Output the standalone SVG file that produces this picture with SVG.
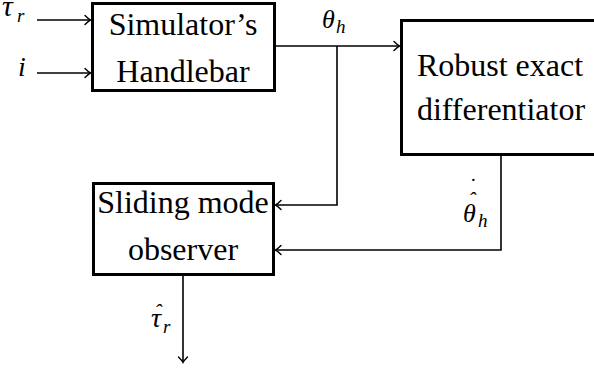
<svg xmlns="http://www.w3.org/2000/svg" width="594" height="374" viewBox="0 0 594 374">
<defs>
<style>
.box{fill:#fff;stroke:#000;stroke-width:3}
.t{font-size:32px;fill:#000;text-anchor:middle}
.m{font-style:italic;fill:#000}
.c{fill:none;stroke:#000;stroke-width:1.6}
</style>
<marker id="arr" viewBox="-6 -6 8 12" markerWidth="8" markerHeight="12" refX="0" refY="0" orient="auto" markerUnits="userSpaceOnUse">
<path d="M-5,-4.5 Q-1.5,-1 0.5,0 Q-1.5,1 -5,4.5" fill="none" stroke="#000" stroke-width="1.4" stroke-linecap="round"/>
</marker>
</defs>
<rect width="594" height="374" fill="#fff"/>
<g id="connectors">
<path class="c" d="M37,20 H90" marker-end="url(#arr)"/>
<path class="c" d="M37,73 H90" marker-end="url(#arr)"/>
<path class="c" d="M276,46 H399" marker-end="url(#arr)"/>
<path class="c" d="M337,46 V205 H276" marker-end="url(#arr)"/>
<path class="c" d="M501,156 V250 H276" marker-end="url(#arr)"/>
<path class="c" d="M183,276 V362" marker-end="url(#arr)"/>
</g>
<g id="labels" font-family="Liberation Serif, Times New Roman, serif">
<text class="m" x="2" y="16" font-size="30">τ</text>
<text class="m" x="17" y="22" font-size="19">r</text>
<text class="m" x="18" y="76" font-size="28">i</text>
<text class="m" x="322" y="28" font-size="26">θ</text>
<text class="m" x="336" y="33" font-size="19">h</text>
<text class="m" x="463" y="222" font-size="26">θ</text>
<text class="m" x="478" y="227" font-size="19">h</text>
<text class="m" x="472" y="207" font-size="22" text-anchor="middle">ˆ</text>
<text class="m" x="472" y="193" font-size="22" text-anchor="middle">˙</text>
<text class="m" x="151" y="327" font-size="28">τ</text>
<text class="m" x="163" y="333" font-size="19">r</text>
<text class="m" x="158" y="319" font-size="22" text-anchor="middle">ˆ</text>
</g>
<g id="handlebar" font-family="Liberation Serif, Times New Roman, serif">
<rect class="box" x="92.5" y="3.5" width="182" height="87"/>
<text class="t" x="183" y="35">Simulator’s</text>
<text class="t" x="183" y="82">Handlebar</text>
</g>
<g id="differentiator" font-family="Liberation Serif, Times New Roman, serif">
<rect class="box" x="401.5" y="20.5" width="200" height="134"/>
<text class="t" x="500" y="76">Robust exact</text>
<text class="t" x="501" y="120">differentiator</text>
</g>
<g id="observer" font-family="Liberation Serif, Times New Roman, serif">
<rect class="box" x="93.5" y="183.5" width="180" height="91"/>
<text class="t" x="183" y="213">Sliding mode</text>
<text class="t" x="183" y="260">observer</text>
</g>
</svg>
